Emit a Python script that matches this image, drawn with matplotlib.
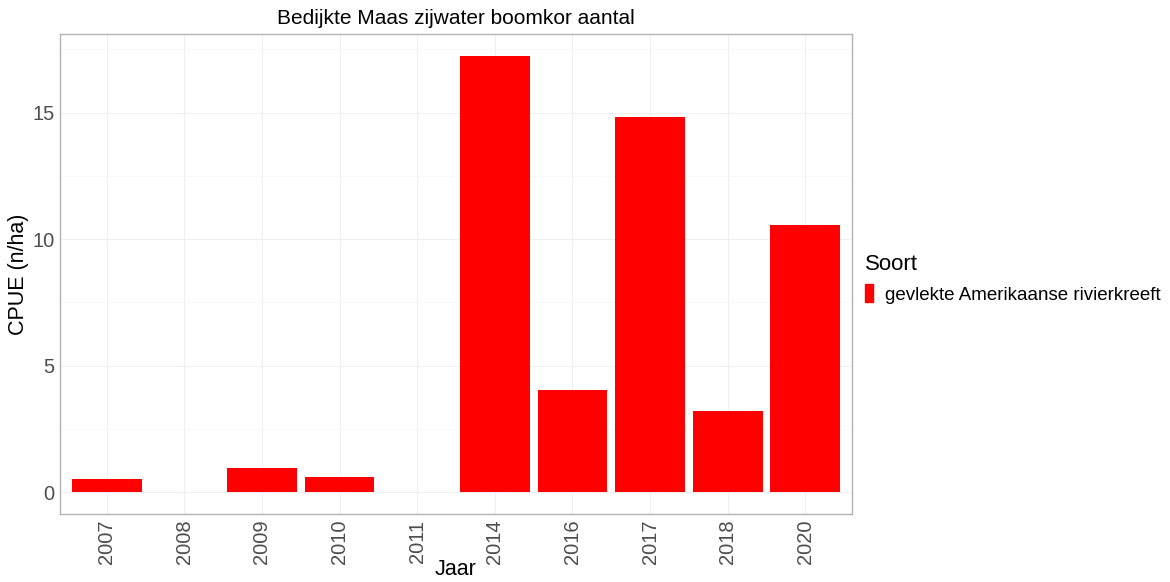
import matplotlib.pyplot as plt
from matplotlib.patches import Patch
import numpy as np

plt.rcParams['font.family'] = ['Liberation Sans', 'DejaVu Sans']

years = ['2007', '2008', '2009', '2010', '2011', '2014', '2016', '2017', '2018', '2020']
cpue = [0.52, 0.0, 0.95, 0.60, 0.0, 17.25, 4.05, 14.83, 3.22, 10.56]
species = 'gevlekte Amerikaanse rivierkreeft'

fig = plt.figure(figsize=(11.7, 5.82), dpi=100)
ax = fig.add_axes([60 / 1170, 1 - 514 / 582, 792 / 1170, 480 / 582])

x = np.arange(len(years))
ax.bar(x, cpue, width=0.9, color='#FF0000', zorder=3)

ymax = max(cpue)
ax.set_ylim(-0.05 * ymax, ymax * 1.05)
ax.set_xlim(-0.6, len(years) - 0.4)
ax.set_xticks(x)
ax.set_xticklabels(years, rotation=90)
ax.set_yticks([0, 5, 10, 15])
ax.set_yticks([2.5, 7.5, 12.5, 17.5], minor=True)

ax.grid(which='major', color='#EFEFEF', linewidth=0.8, zorder=0)
ax.grid(which='minor', axis='y', color='#F7F7F7', linewidth=0.6, zorder=0)
ax.tick_params(axis='both', which='both', length=0, labelsize=14.5, labelcolor='#4D4D4D', pad=4)
for s in ax.spines.values():
    s.set_color('#B3B3B3')
    s.set_linewidth(1.0)

ax.set_title('Bedijkte Maas zijwater boomkor aantal', fontsize=15, pad=7)
ax.set_ylabel('CPUE (n/ha)', fontsize=15.5, labelpad=2)
ax.set_xlabel('Jaar', fontsize=15.5, labelpad=-4)

leg = fig.legend(handles=[Patch(color='#FF0000', label=species)], title='Soort',
                 loc='upper left', bbox_to_anchor=(848 / 1170, 1 - 237 / 582),
                 frameon=False, fontsize=13.5, title_fontsize=16,
                 handlelength=0.45, handleheight=1.1, handletextpad=0.6)
leg._legend_box.align = 'left'

fig.savefig('out.png', dpi=100)
